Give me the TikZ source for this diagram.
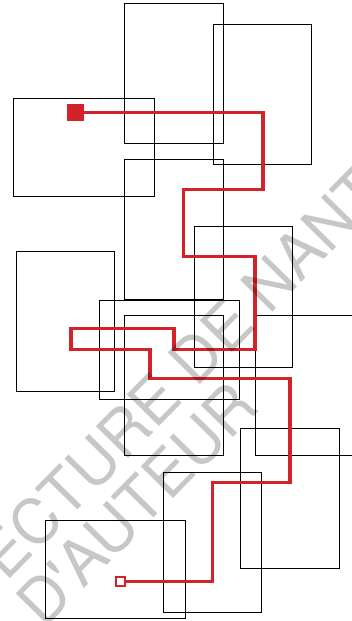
\documentclass[tikz,border=0pt]{standalone}
\usepackage{fontspec}
\usepackage{xcolor}
\usepackage{tikz}
\newfontfamily\markfont{TeX Gyre Heros}
\definecolor{routered}{RGB}{210,35,42}
\tikzset{
  pics/sheet/.default={98.6/140.4},
  pics/sheet/.style args = {#1/#2}{
    code = {
    \draw[pic actions] (0,0) rectangle (#1,#2);
    }
  },
  route/.style = {draw=routered, line width=3.3pt},
  watermark/.style = {rotate=45.5, inner sep=0pt, text=black, text opacity=0.22,
    font=\markfont\fontsize{62}{62}\selectfont}
}
\begin{document}
\begin{tikzpicture}[x=1pt,y=-1pt]
\useasboundingbox (0,0) rectangle (352,621);
\clip (0,0) rectangle (352,621);

 % upright sheets
 \foreach \x/\y in {124.7/3, 213/24.3, 124.7/159.3, 194.3/226.7, 16/251.3,
   124.7/315.3, 255.5/315.3, 240.7/428.3, 163.3/472.3}{
    \pic[line width=0.9pt] at (\x,\y) {sheet};
  }

 % flat sheets
 \foreach \x/\y in {13.7/98.3, 99/300.7, 45/520.3}{
    \pic[line width=0.9pt] at (\x,\y) {sheet=140.4/98.6};
  }

\node[fill=routered, minimum size=16.4pt, inner sep=0pt] (start) at (75.5,112.4) {};
\node[draw=routered, fill=white, line width=2pt, minimum size=9pt, inner sep=0pt] (stop) at (120.5,581.3) {};

\draw[route] (start) -- (263,112.4) -- (263,189.3) -- (183.3,189.3) -- (183.3,256.7)
  -- (255,256.7) -- (255,349.8) -- (174,349.8) -- (174,328.7) -- (71,328.7)
  -- (71,349.8) -- (150,349.8) -- (150,378.7) -- (290,378.7) -- (290,482.7)
  -- (212.3,482.7) -- (212.3,581.3) -- (stop);

\node[watermark, anchor=base west] (mark1) at (6,583) {\llap{ARCHIT}ECTURE DE NANTES};
\node[watermark, anchor=base west] (mark2) at (44,630) {D\textquotesingle AUTEUR};

\end{tikzpicture}
\end{document}
